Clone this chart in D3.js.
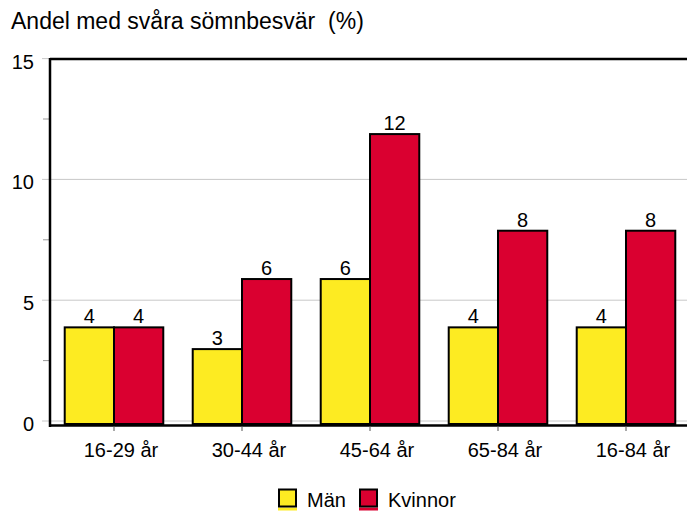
<!DOCTYPE html>
<html>
<head>
<meta charset="utf-8">
<script src="https://cdn.jsdelivr.net/npm/d3@7"></script>
<style>
  body { margin: 0; background: #fff; }
  text { font-family: "Liberation Sans", Arial, sans-serif; fill: #000; }
</style>
</head>
<body>
<div id="chart"></div>
<script>
var categories = ["16-29 år", "30-44 år", "45-64 år", "65-84 år", "16-84 år"];
var series = ["Män", "Kvinnor"];
var man = [4, 3.1, 6, 4, 4];
var kvinnor = [4, 6, 12, 8, 8];
var yTicks = [0, 5, 10, 15];
var yMinor = [2.5, 7.5, 12.5];
var colors = ["#fdeb22", "#da0030"];

var width = 687, height = 511;
var mLeft = 50, mRight = 690, mTop = 61.6, mBottom = 424;

var svg = d3.select("#chart").append("svg")
    .attr("width", width)
    .attr("height", height);

var data = categories.map(function(c, i) {
  return { cat: c, values: [man[i], kvinnor[i]] };
});

var x = d3.scaleBand().domain(categories).range([mLeft, mRight])
    .paddingInner(0.23).paddingOuter(0.115);
var xs = d3.scaleBand().domain(series).range([0, x.bandwidth()]);
var y = d3.scaleLinear().domain([0, 15]).range([mBottom, mTop]);

// title
svg.append("text")
    .attr("x", 11).attr("y", 29)
    .style("font-size", "23px")
    .style("white-space", "pre")
    .text("Andel med svåra sömnbesvär  (%)");

// gridlines sit a few px above the value in the original
svg.append("g").selectAll("line")
    .data(yTicks)
  .enter().append("line")
    .attr("x1", 42).attr("x2", width)
    .attr("y1", function(d) { return y(d) - 3; })
    .attr("y2", function(d) { return y(d) - 3; })
    .attr("stroke", "#c8c8c8").attr("stroke-width", 1);

svg.append("g").selectAll("line")
    .data(yMinor)
  .enter().append("line")
    .attr("x1", 43).attr("x2", mLeft)
    .attr("y1", function(d) { return y(d) - 3; })
    .attr("y2", function(d) { return y(d) - 3; })
    .attr("stroke", "#999");

svg.append("g").selectAll("text")
    .data(yTicks)
  .enter().append("text")
    .attr("x", 34)
    .attr("y", function(d) { return y(d) + 7; })
    .attr("text-anchor", "end")
    .style("font-size", "20px")
    .text(function(d) { return d; });

// bars
var groups = svg.append("g").selectAll("g")
    .data(data)
  .enter().append("g")
    .attr("transform", function(d) { return "translate(" + x(d.cat) + ",0)"; });

groups.selectAll("rect")
    .data(function(d) { return d.values.map(function(v, j) { return { s: series[j], v: v, j: j }; }); })
  .enter().append("rect")
    .attr("x", function(d) { return xs(d.s); })
    .attr("y", function(d) { return y(d.v); })
    .attr("width", xs.bandwidth())
    .attr("height", function(d) { return mBottom - y(d.v); })
    .attr("fill", function(d) { return colors[d.j]; })
    .attr("stroke", "#000")
    .attr("stroke-width", 2);

groups.selectAll(".val")
    .data(function(d) { return d.values.map(function(v, j) { return { s: series[j], v: v }; }); })
  .enter().append("text")
    .attr("class", "val")
    .attr("x", function(d) { return xs(d.s) + xs.bandwidth() / 2; })
    .attr("y", function(d) { return y(d.v) - 4; })
    .attr("text-anchor", "middle")
    .style("font-size", "20px")
    .text(function(d) { return Math.round(d.v); });

// frame
svg.append("line")
    .attr("x1", mLeft).attr("x2", mLeft).attr("y1", 58).attr("y2", mBottom + 3)
    .attr("stroke", "#000").attr("stroke-width", 2.5);
svg.append("line")
    .attr("x1", mLeft).attr("x2", width).attr("y1", 59).attr("y2", 59)
    .attr("stroke", "#000").attr("stroke-width", 2.5);
svg.append("line")
    .attr("x1", mLeft).attr("x2", width).attr("y1", mBottom + 1.5).attr("y2", mBottom + 1.5)
    .attr("stroke", "#000").attr("stroke-width", 2.5);

// x ticks + labels
svg.append("g").selectAll("line")
    .data(categories)
  .enter().append("line")
    .attr("x1", function(d) { return x(d) + x.bandwidth() / 2; })
    .attr("x2", function(d) { return x(d) + x.bandwidth() / 2; })
    .attr("y1", mBottom + 2).attr("y2", mBottom + 7)
    .attr("stroke", "#555");

svg.append("g").selectAll("text")
    .data(categories)
  .enter().append("text")
    .attr("x", function(d) { return x(d) + x.bandwidth() / 2 + 7; })
    .attr("y", 457)
    .attr("text-anchor", "middle")
    .style("font-size", "20px")
    .text(function(d) { return d; });

// legend
var legX = [279, 360];
var leg = svg.append("g").selectAll("g")
    .data(series)
  .enter().append("g")
    .attr("transform", function(d, i) { return "translate(" + legX[i] + ",489.5)"; });
leg.append("rect")
    .attr("x", -1).attr("y", 18).attr("width", 19).attr("height", 3)
    .attr("fill", function(d, i) { return colors[i]; });
leg.append("rect")
    .attr("width", 17).attr("height", 17)
    .attr("fill", function(d, i) { return colors[i]; })
    .attr("stroke", "#000").attr("stroke-width", 2);
leg.append("text")
    .attr("x", 28).attr("y", 17.5)
    .style("font-size", "20px")
    .text(function(d) { return d; });
</script>
</body>
</html>
